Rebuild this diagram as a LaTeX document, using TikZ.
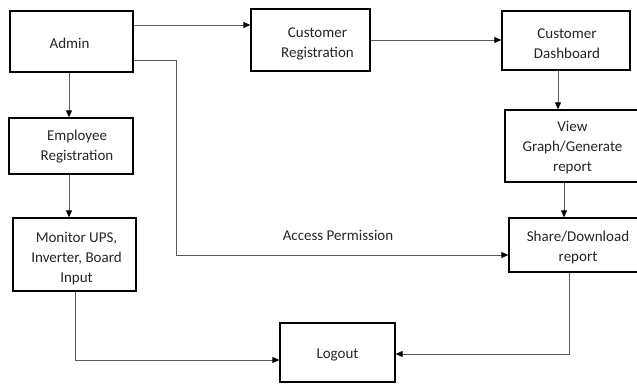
\documentclass[tikz,border=0pt]{standalone}
\usepackage{fontspec}
\setmainfont{Carlito}
\usetikzlibrary{arrows.meta,calc}
\tikzset{
  box/.style={draw=black, line width=1.3pt, inner sep=0pt},
  conn/.style={draw=black!65, line width=0.9pt,
    -{Triangle[length=7pt,width=6pt,fill=black,color=black]}},
  lbl/.style={text=black!85, font=\fontsize{15}{20}\selectfont, align=center},
  % box text, nudged by (dx,dy)
  txt/.style n args={3}{label={[lbl, xshift=#1, yshift=#2]center:#3}}
}
\begin{document}
\begin{tikzpicture}[x=1pt,y=-1pt]
  \useasboundingbox (0,0) rectangle (637,383);
  \clip (0,0) rectangle (637,383);
  \fill[white] (0,0) rectangle (637,383);

  % boxes
  \node[box, minimum width=123pt, minimum height=61pt,
        txt={-2pt}{-2pt}{Admin}] (admin) at (71.5,41.5) {};
  \node[box, minimum width=119pt, minimum height=62pt,
        txt={7pt}{-3.5pt}{Customer\\Registration}] (custreg) at (310.5,40) {};
  \node[box, minimum width=128pt, minimum height=59pt,
        txt={1pt}{-3pt}{Customer\\Dashboard}] (custdash) at (566,40.5) {};
  \node[box, minimum width=135pt, minimum height=72pt,
        txt={0pt}{-2pt}{View\\Graph/Generate\\report}] (view) at (572.5,146) {};
  \node[box, minimum width=138pt, minimum height=54pt,
        txt={0pt}{-2pt}{Share/Download\\report}] (share) at (578,245) {};
  \node[box, minimum width=124pt, minimum height=56pt,
        txt={6pt}{-0.5pt}{Employee\\Registration}] (emp) at (71,146) {};
  \node[box, minimum width=123pt, minimum height=73pt,
        txt={2pt}{-4pt}{Monitor UPS,\\Inverter, Board\\Input}] (mon) at (74.5,254.5) {};
  \node[box, minimum width=115pt, minimum height=59pt,
        txt={0pt}{-2pt}{Logout}] (logout) at (337.5,352.5) {};

  % connectors
  \draw[conn] ([yshift=16.5pt]admin.east) -- ([yshift=16.5pt]admin.east -| custreg.west);
  \draw[conn] (custreg.east) -- (custreg.east -| custdash.west);
  \draw[conn] ([xshift=-2.5pt]admin.south) -- ([xshift=-2.5pt]admin.south |- emp.north);
  \draw[conn] ([xshift=-2pt]emp.south) -- ([xshift=-2pt]emp.south |- mon.north);
  \draw[conn] ([xshift=-8pt]custdash.south) -- ([xshift=-8pt]custdash.south |- view.north);
  \draw[conn] ([xshift=-8.5pt]view.south) -- ([xshift=-8.5pt]view.south |- share.north);

  \coordinate (apbend) at (176,255);
  \draw[conn] ([yshift=-18.5pt]admin.east) -| (apbend) -- (apbend -| share.west);
  \node[lbl] (aplabel) at (338,235) {Access Permission};

  \draw[conn] ([xshift=-9pt]share.south) |- ([yshift=-1.5pt]logout.east);
  \draw[conn] ([xshift=0.5pt]mon.south) |- ([yshift=-7.5pt]logout.west);
\end{tikzpicture}
\end{document}
